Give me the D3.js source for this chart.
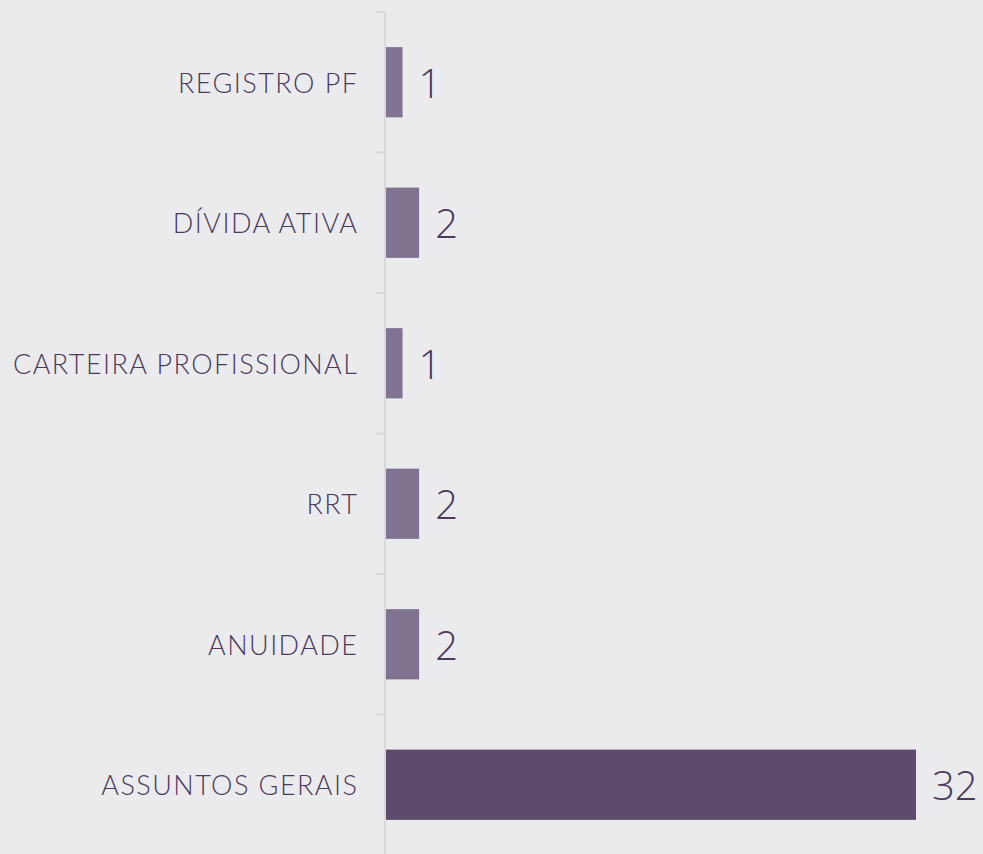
<!DOCTYPE html>
<html><head><meta charset="utf-8">
<script src="https://cdn.jsdelivr.net/npm/d3@7"></script>
<style>
html,body{margin:0;padding:0;background:#ebebee;}
svg{display:block;}
</style></head>
<body>
<script>
const categories = ["REGISTRO PF","DÍVIDA ATIVA","CARTEIRA PROFISSIONAL","RRT","ANUIDADE","ASSUNTOS GERAIS"];
const values = [1,2,1,2,2,32];

const W = 983, H = 854;
const svg = d3.select("body").append("svg").attr("width", W).attr("height", H);
svg.append("rect").attr("width", W).attr("height", H).attr("fill", "#ebebee");

const x = d3.scaleLinear().domain([0, 32]).range([386, 916]);
const y = d3.scaleBand().domain(categories).range([12, 855]).paddingInner(0.5).paddingOuter(0.25);

svg.append("line").attr("x1", 385).attr("x2", 385).attr("y1", 12).attr("y2", H)
  .attr("stroke", "#d9d9dc").attr("stroke-width", 2);
const step = y.step();
const bounds = d3.range(categories.length).map(i => y.range()[0] + i * step);
svg.selectAll("line.tick").data(bounds).enter().append("line")
  .attr("x1", 376).attr("x2", 385).attr("y1", d => d).attr("y2", d => d)
  .attr("stroke", "#d9d9dc").attr("stroke-width", 2);

const font = "Lato, 'Open Sans', sans-serif";

svg.selectAll("rect.bar").data(categories).enter().append("rect")
  .attr("x", x(0)).attr("y", d => y(d))
  .attr("width", (d, i) => x(values[i]) - x(0))
  .attr("height", y.bandwidth())
  .attr("fill", (d, i) => values[i] === d3.max(values) ? "#5c4b6a" : "#7f7390");

svg.selectAll("text.cat").data(categories).enter().append("text")
  .attr("x", 358.4).attr("y", d => y(d) + y.bandwidth() / 2)
  .attr("text-anchor", "end").attr("dominant-baseline", "central")
  .attr("font-family", font).attr("font-weight", 300).attr("font-size", 27)
  .attr("letter-spacing", 1.45)
  .attr("fill", "#4a3a5c").text(d => d);

svg.selectAll("text.val").data(categories).enter().append("text")
  .attr("x", (d, i) => x(values[i]) + 16).attr("y", d => y(d) + y.bandwidth() / 2)
  .attr("dominant-baseline", "central")
  .attr("font-family", "'Open Sans', Lato, sans-serif").attr("font-weight", 300).attr("font-size", 40)
  .attr("fill", "#4a3a5c").text((d, i) => values[i]);
</script>
</body></html>
